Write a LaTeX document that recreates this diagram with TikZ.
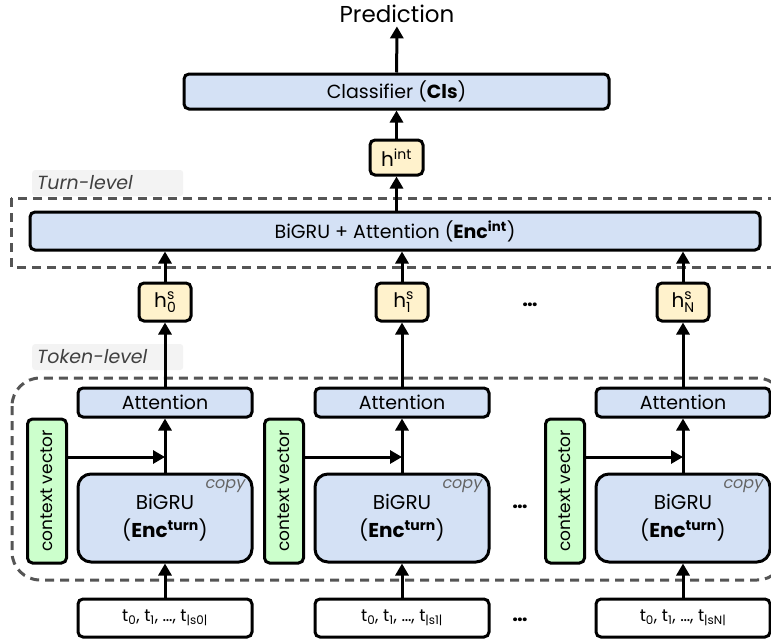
\documentclass[tikz,border=0pt]{standalone}
\usepackage{fontspec}
\setmainfont{Poppins}
\usetikzlibrary{arrows.meta}
\definecolor{boxblue}{HTML}{D4E1F5}
\definecolor{boxyellow}{HTML}{FFF2CC}
\definecolor{boxgreen}{HTML}{CCFFCC}
\definecolor{levelgray}{HTML}{555555}
\definecolor{labelbg}{HTML}{F3F3F3}
\newcommand{\hsym}[1]{h\makebox[0pt][l]{\raisebox{0.7ex}{\fontsize{14}{14}\selectfont s}}\raisebox{-0.45ex}{\fontsize{14}{14}\selectfont #1}}
\tikzset{
  block/.style={draw, line width=3pt, rounded corners=5pt, fill=boxblue, inner sep=0pt, font=\fontsize{19}{23}\selectfont},
  hbox/.style={block, fill=boxyellow, minimum width=52pt, minimum height=38pt, font=\fontsize{20}{22}\selectfont},
  ctxbox/.style={block, fill=boxgreen, rotate=90, minimum width=144pt, minimum height=39pt, font=\fontsize{17}{19}\selectfont},
  tokbox/.style={block, fill=white, minimum width=174pt, minimum height=38pt, font=\fontsize{17}{19}\selectfont},
  copylabel/.style={text=black!60, inner sep=1pt, font=\fontsize{16}{16}\selectfont\itshape},
  level/.style={draw=levelgray, line width=3pt, dash pattern=on 9pt off 6pt},
  levellabel/.style={fill=labelbg, rounded corners=3pt, anchor=west, text width=141pt, align=left, inner xsep=5pt, minimum height=26pt, text=black!75, font=\fontsize{19}{21}\selectfont\itshape},
  link/.style={->, line width=3pt},
}
\begin{document}
\begin{tikzpicture}[x=1pt, y=-1pt, >={Triangle[width=13pt,length=12pt]}]
\useasboundingbox (0,0) rectangle (771,640);
% the two levels
\draw[level] (11,198) rectangle (790,267);
\draw[level, rounded corners=28pt] (12,378) rectangle (785,580);
\node[levellabel] (turnlab) at (32,183) {Turn-level};
\node[levellabel] (toklab) at (32,357) {Token-level};
% turn-level encoder and classifier
\node[block, minimum width=730pt, minimum height=38pt] (enc) at (395,231) {BiGRU + Attention (\textbf{Enc\textsuperscript{int}})};
\node[hbox, minimum width=53pt, minimum height=35pt] (hint) at (396.5,157.5) {h\textsuperscript{int}};
\node[block, minimum width=425pt, minimum height=35pt] (cls) at (396.5,91.5) {Classifier (\textbf{Cls})};
\node[font=\fontsize{23}{25}\selectfont] (pred) at (397,14) {Prediction};
\draw[link] (enc.north -| hint) -- (hint);
\draw[link] (hint) -- (cls);
\draw[link] (cls) -- (pred);
% one column per turn
\foreach \x/\k in {165/0, 402/1, 683/N} {
  \node[block, minimum width=174pt, minimum height=29pt] (att\k) at (\x,402.5) {Attention};
  \node[block, rounded corners=13pt, minimum width=174pt, minimum height=88pt, align=center, font=\fontsize{20}{28}\selectfont] (gru\k) at (\x,518) {BiGRU\\(\textbf{Enc\textsuperscript{turn}})};
  \node[copylabel, anchor=north east] (copy\k) at ([shift={(-7pt,-6pt)}]gru\k.north east) {copy};
  \node[ctxbox] (ctx\k) at (\x-118,491) {context vector};
  \node[tokbox] (tok\k) at (\x,618) {t\textsubscript{0}, t\textsubscript{1}, …, t\textsubscript{|s\k|}};
  \node[hbox] (hs\k) at (\x,302) {\hsym{\k}};
  \coordinate (mix\k) at (\x,457);
  \draw[link] (tok\k) -- (gru\k);
  \draw[line width=3pt] (gru\k) -- (mix\k);
  \draw[link] (mix\k) -- (att\k);
  \draw[link] (ctx\k.south |- mix\k) -- (mix\k);
  \draw[link] (att\k) -- (hs\k);
  \draw[link] (hs\k) -- (hs\k |- enc.south);
}
\node[font=\fontsize{20}{22}\selectfont\bfseries] (dotsh) at (530,305) {…};
\node[font=\fontsize{20}{22}\selectfont\bfseries] (dotsgru) at (520,507) {…};
\node[font=\fontsize{20}{22}\selectfont\bfseries] (dotstok) at (520,620) {…};
\end{tikzpicture}
\end{document}
